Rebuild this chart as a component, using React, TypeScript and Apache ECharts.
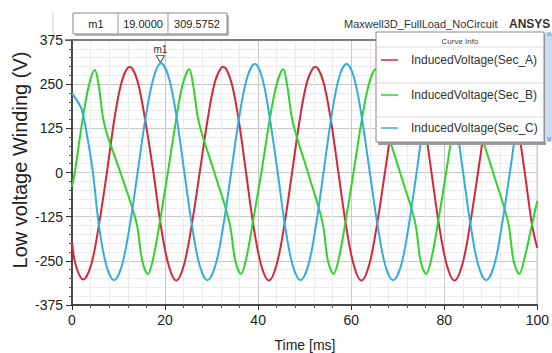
import React, { useEffect, useRef } from "react";
import * as echarts from "echarts";

const seriesNames = ["InducedVoltage(Sec_A)", "InducedVoltage(Sec_B)", "InducedVoltage(Sec_C)"];
const seriesColors = ["#d4283a", "#2fd42a", "#35ace0"];

const xTicks = { min: 0, max: 100, interval: 20 };
const yTicks = { min: -375, max: 375, interval: 125 };

const marker = { name: "m1", t: 19.0, v: 309.5752 };

// [time ms, voltage V]
const secA: number[][] = [
  [0, -196], [0.8, -262], [2.4, -303], [4.1, -262], [5.75, -151], [7.5, 0], [9.1, 150], [10.75, 260], [12.4, 299],
  [14.05, 260], [15.7, 150], [17.5, 0], [19.1, -151], [20.75, -262], [22.4, -306],
  [24.05, -262], [25.7, -151], [27.45, 0], [29.15, 150], [30.8, 260], [32.5, 299], [34.15, 260], [35.8, 150],
  [37.4, 0], [39.0, -151], [40.65, -262], [42.3, -306],
  [43.95, -262], [45.6, -151], [47.3, 0], [48.95, 150], [50.6, 260], [52.3, 299], [53.95, 260], [55.6, 150],
  [57.25, 0], [58.9, -151], [60.55, -262], [62.2, -306],
  [63.85, -262], [65.5, -151], [67.25, 0], [68.95, 150], [70.6, 260], [72.3, 299], [73.95, 260], [75.6, 150],
  [77.25, 0], [78.9, -151], [80.55, -262], [82.2, -306],
  [83.85, -262], [85.5, -151], [87.25, 0], [88.95, 150], [90.6, 260], [92.3, 299], [93.95, 260], [95.6, 150],
  [97.3, 0], [98.9, -151], [100, -214],
];

const secB: number[][] = [
  [0, -40], [0.6, 0], [2.1, 135], [3.6, 245], [4.9, 290],
  [5.7, 250], [7.0, 134], [10.4, 0], [13.8, -139], [15.1, -250], [16.3, -287], [17.5, -240], [19.0, -130],
  [20.6, 0], [22.2, 135], [23.7, 245], [25.2, 292],
  [26.0, 250], [27.3, 140], [30.6, 0], [33.8, -139], [35.1, -250], [36.3, -287], [37.5, -240], [39.0, -130],
  [40.7, 0], [42.3, 135], [43.9, 245], [45.4, 292],
  [46.2, 250], [47.5, 140], [50.7, 0], [53.8, -139], [55.0, -250], [56.2, -287], [57.4, -240], [58.9, -130],
  [60.5, 0], [62.1, 135], [63.7, 245], [65.2, 292],
  [66.0, 250], [67.3, 140], [70.5, 0], [73.7, -139], [74.9, -250], [76.1, -287], [77.3, -240], [78.8, -130],
  [80.4, 0], [82.0, 135], [83.6, 245], [85.2, 292],
  [86.0, 250], [87.3, 140], [90.5, 0], [93.7, -139], [94.9, -250], [96.1, -287], [97.3, -240], [98.8, -150],
  [100, -80],
];

const secC: number[][] = [
  [0, 224], [1, 205], [2.1, 178], [3.3, 100], [4.5, 0], [5.8, -151], [7.4, -264], [9.05, -305],
  [10.7, -264], [12.4, -152], [14.1, 0], [15.8, 154], [17.5, 267], [19.1, 309.5], [20.85, 267], [22.5, 154],
  [24.15, 0], [25.8, -152], [27.45, -264], [29.1, -305],
  [30.8, -264], [32.5, -152], [34.2, 0], [35.9, 154], [37.6, 267], [39.3, 308], [40.9, 267], [42.5, 154],
  [44.2, 0], [45.8, -152], [47.45, -264], [49.1, -305],
  [50.75, -264], [52.4, -152], [54.05, 0], [55.7, 154], [57.35, 267], [59.0, 308], [60.65, 267], [62.3, 154],
  [64.0, 0], [65.7, -152], [67.35, -264], [69.0, -305],
  [70.7, -264], [72.35, -152], [74.05, 0], [75.7, 154], [77.4, 267], [79.1, 308], [80.75, 267], [82.4, 154],
  [84.05, 0], [85.7, -152], [87.35, -264], [89.0, -305],
  [90.7, -264], [92.35, -152], [94.1, 0], [95.8, 154], [97.5, 267], [99.2, 308], [100, 300],
];

const FONT = "'Liberation Sans', Arial, sans-serif";

export default function App() {
  const ref = useRef<HTMLDivElement>(null);
  useEffect(() => {
    if (!ref.current) return;
    const chart = echarts.init(ref.current, null, { renderer: "svg" });
    const datas = [secA, secB, secC];
    const legendX = 376;
    const legendY = 32;
    const legendW = 168;
    const rowYs = [60, 95, 128];
    const LZ = 100;
    const option: any = {
      animation: false,
      backgroundColor: "#ffffff",
      textStyle: { fontFamily: FONT },
      grid: { left: 72, top: 40, width: 468, height: 265, show: true, borderColor: "#777", borderWidth: 1, backgroundColor: "#fff" },
      xAxis: {
        type: "value",
        min: xTicks.min,
        max: xTicks.max,
        interval: xTicks.interval,
        axisLine: { show: true, onZero: false, lineStyle: { color: "#222", width: 1.5 } },
        axisTick: { show: true, inside: false, length: 5, lineStyle: { color: "#333" } },
        minorTick: { show: true, splitNumber: 5, length: 3, lineStyle: { color: "#555" } },
        splitLine: { show: true, lineStyle: { color: "#c9c9c9", width: 1 } },
        minorSplitLine: { show: true, lineStyle: { color: "#ececec", width: 1 } },
        axisLabel: { fontSize: 14, color: "#222", margin: 8, fontFamily: FONT },
      },
      yAxis: {
        type: "value",
        min: yTicks.min,
        max: yTicks.max,
        interval: yTicks.interval,
        axisLine: { show: true, onZero: false, lineStyle: { color: "#222", width: 1.5 } },
        axisTick: { show: true, inside: false, length: 6, lineStyle: { color: "#333" } },
        minorTick: { show: true, splitNumber: 5, length: 3, lineStyle: { color: "#555" } },
        splitLine: { show: true, lineStyle: { color: "#c9c9c9", width: 1 } },
        minorSplitLine: { show: true, lineStyle: { color: "#ececec", width: 1 } },
        axisLabel: { fontSize: 14, color: "#222", margin: 9, fontFamily: FONT },
      },
      series: datas.map((d, i) => ({
        type: "line",
        name: seriesNames[i],
        data: d,
        smooth: 0.35,
        showSymbol: false,
        lineStyle: { color: seriesColors[i], width: 2 },
        itemStyle: { color: seriesColors[i] },
        z: 3 + i,
        markPoint:
          i === 2
            ? {
                symbol: "triangle",
                symbolRotate: 180,
                symbolSize: [8, 7],
                symbolOffset: [0, -4],
                itemStyle: { color: "#ffffff", borderColor: "#444", borderWidth: 1 },
                label: { show: true, position: "top", distance: 1, formatter: marker.name, fontSize: 10, color: "#333", fontFamily: FONT },
                data: [{ coord: [marker.t, marker.v] }],
              }
            : undefined,
      })),
      graphic: {
        elements: [
          { type: "line", shape: { x1: 53, y1: 12, x2: 53, y2: 40 }, style: { stroke: "#cfcfcf", lineWidth: 1 } },
          { type: "rect", shape: { x: 75, y: 15, width: 154, height: 21 }, style: { fill: "#b8b8b8" } },
          { type: "rect", shape: { x: 73, y: 13, width: 154, height: 21 }, style: { fill: "#fff", stroke: "#888", lineWidth: 1 } },
          { type: "line", shape: { x1: 118, y1: 13, x2: 118, y2: 34 }, style: { stroke: "#999", lineWidth: 1 } },
          { type: "line", shape: { x1: 168, y1: 13, x2: 168, y2: 34 }, style: { stroke: "#999", lineWidth: 1 } },
          { type: "text", x: 96, y: 24, style: { text: marker.name, fontSize: 11, fill: "#222", align: "center", verticalAlign: "middle", fontFamily: FONT } },
          { type: "text", x: 143, y: 24, style: { text: marker.t.toFixed(4), fontSize: 11, fill: "#222", align: "center", verticalAlign: "middle", fontFamily: FONT } },
          { type: "text", x: 197, y: 24, style: { text: marker.v.toFixed(4), fontSize: 11, fill: "#222", align: "center", verticalAlign: "middle", fontFamily: FONT } },
          { type: "line", z: 50, shape: { x1: 65, y1: 40, x2: 540, y2: 40 }, style: { stroke: "#666", lineWidth: 1.5 } },
          { type: "text", x: 344, y: 24, style: { text: "Maxwell3D_FullLoad_NoCircuit", fontSize: 11, fill: "#333", align: "left", verticalAlign: "middle", fontFamily: FONT } },
          { type: "text", x: 509, y: 24, style: { text: "ANSYS", fontSize: 12, fontWeight: "bold", fill: "#333", align: "left", verticalAlign: "middle", fontFamily: FONT } },
          { type: "text", x: 20, y: 160, rotation: Math.PI / 2, style: { text: "Low voltage Winding (V)", fontSize: 20, fill: "#222", align: "center", verticalAlign: "middle", fontFamily: FONT } },
          { type: "text", x: 305, y: 345, style: { text: "Time [ms]", fontSize: 14, fill: "#222", align: "center", verticalAlign: "middle", fontFamily: FONT } },
          { type: "rect", z: LZ, shape: { x: legendX + 2, y: legendY + 2, width: legendW, height: 111 }, style: { fill: "#9a9a9a" } },
          { type: "rect", z: LZ + 1, shape: { x: legendX, y: legendY, width: legendW, height: 110 }, style: { fill: "#fff", stroke: "#8a8a8a", lineWidth: 1 } },
          { type: "rect", z: LZ + 1, shape: { x: legendX + legendW + 1, y: legendY, width: 8, height: 110 }, style: { fill: "#c9dcf2" } },
          { type: "text", z: LZ + 2, x: legendX + legendW + 5, y: legendY + 4, style: { text: "^", fontSize: 9, fill: "#5577aa", align: "center", verticalAlign: "middle", fontFamily: FONT } },
          { type: "text", z: LZ + 2, x: legendX + legendW + 5, y: legendY + 106, style: { text: "v", fontSize: 8, fill: "#5577aa", align: "center", verticalAlign: "middle", fontFamily: FONT } },
          { type: "text", z: LZ + 2, x: legendX + legendW / 2, y: 41, style: { text: "Curve Info", fontSize: 8, fill: "#444", align: "center", verticalAlign: "middle", fontFamily: FONT } },
          { type: "line", z: LZ + 2, shape: { x1: legendX + 1, y1: 47, x2: legendX + legendW - 1, y2: 47 }, style: { stroke: "#dcdcdc", lineWidth: 1 } },
          { type: "line", z: LZ + 2, shape: { x1: legendX + 1, y1: 83, x2: legendX + legendW - 1, y2: 83 }, style: { stroke: "#dcdcdc", lineWidth: 1 } },
          { type: "line", z: LZ + 2, shape: { x1: legendX + 1, y1: 117, x2: legendX + legendW - 1, y2: 117 }, style: { stroke: "#dcdcdc", lineWidth: 1 } },
          ...seriesNames.flatMap((n, i) => [
            { type: "line", z: LZ + 2, shape: { x1: 381, y1: rowYs[i], x2: 398, y2: rowYs[i] }, style: { stroke: seriesColors[i], lineWidth: 1.5 } },
            { type: "text", z: LZ + 2, x: 411, y: rowYs[i], style: { text: n, fontSize: 12, fill: "#333", align: "left", verticalAlign: "middle", fontFamily: FONT } },
          ]),
        ],
      },
    };
    chart.setOption(option);
    return () => chart.dispose();
  }, []);
  return <div ref={ref} style={{ position: "fixed", left: 0, top: 0, width: 552, height: 353 }} />;
}
